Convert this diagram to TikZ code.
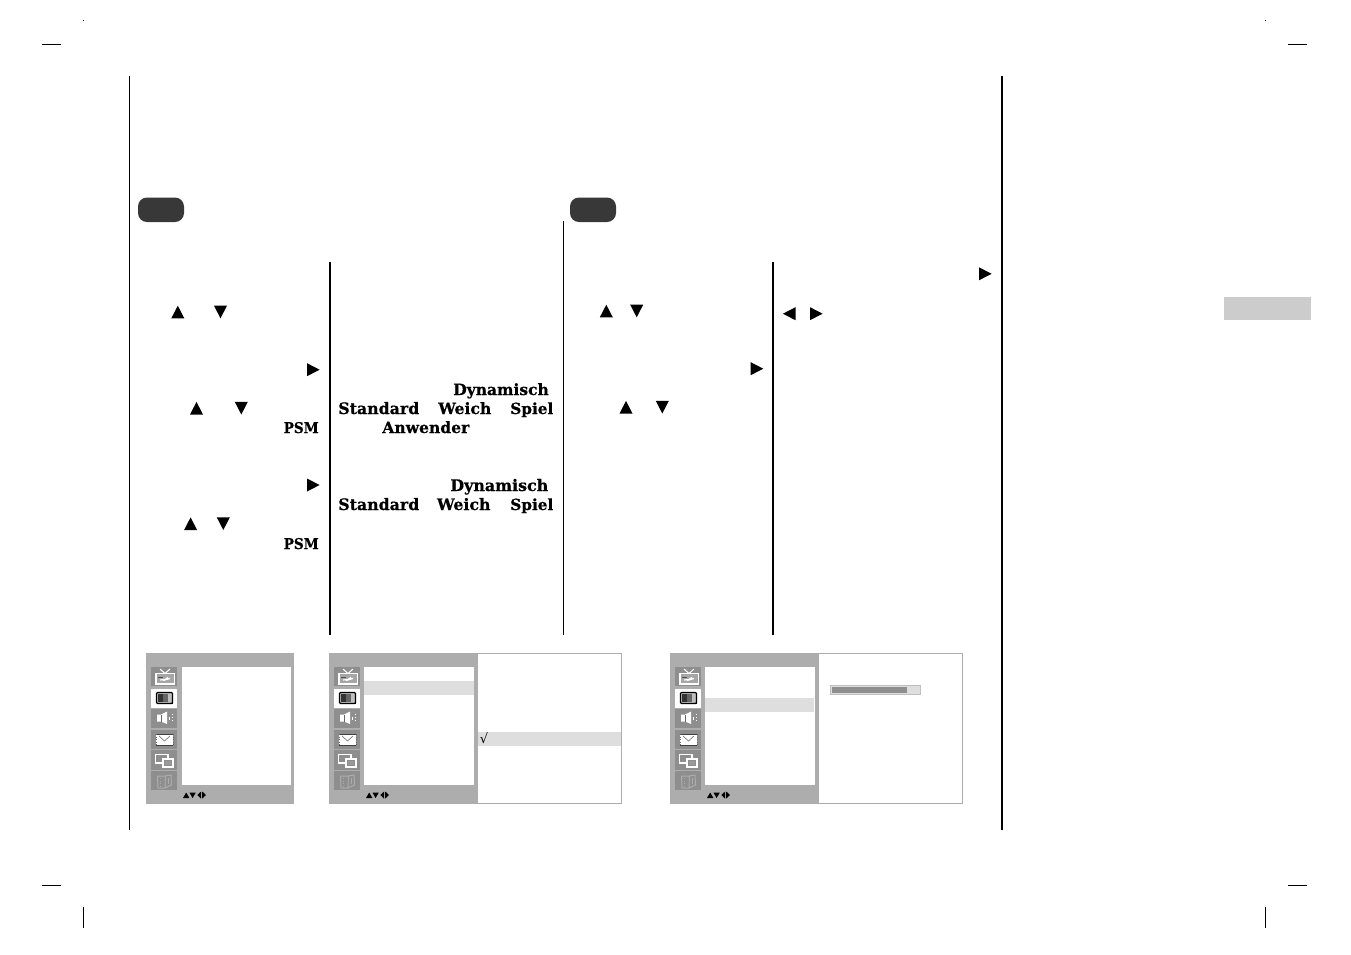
\documentclass[tikz,border=0pt]{standalone}
\usepackage{fontspec}
\usepackage{graphicx}
\setmainfont{DejaVu Serif}
\newfontfamily\symfont{DejaVu Sans}
\newfontfamily\heavyf{DejaVu Serif}[UprightFont={* Bold},FakeBold=0.6]
\definecolor{pgray}{HTML}{ADADAD}
\definecolor{tgray}{HTML}{8E8E8E}
\definecolor{hgray}{HTML}{DEDEDE}
\definecolor{pill}{HTML}{383838}
\definecolor{tabgray}{HTML}{CCCCCC}
\tikzset{
  crop/.style={black,line width=1pt},
  rulethin/.style={black,line width=1.1pt},
  rulethick/.style={black,line width=2pt},
  lab/.style={anchor=base west,inner sep=0pt,outer sep=0pt,font=\heavyf\fontsize{15}{15}\selectfont},
}
% triangles: centre x, centre y
\newcommand{\tup}[2]{\fill[black] (#1-6.5,#2+6.3) -- (#1+6.5,#2+6.3) -- (#1,#2-6.3) -- cycle;}
\newcommand{\tdn}[2]{\fill[black] (#1-6.5,#2-6.3) -- (#1+6.5,#2-6.3) -- (#1,#2+6.3) -- cycle;}
\newcommand{\trt}[2]{\fill[black] (#1-6.3,#2-6.5) -- (#1-6.3,#2+6.5) -- (#1+6.3,#2) -- cycle;}
\newcommand{\tlf}[2]{\fill[black] (#1+6.3,#2-6.5) -- (#1+6.3,#2+6.5) -- (#1-6.3,#2) -- cycle;}
\newcommand{\lbl}[5]{\node[lab] (#1) at (#2,#3) {\resizebox{#4pt}{!}{#5}};}
\newcommand{\lblh}[5]{\node[lab] (#1) at (#2,#3) {\resizebox{#4pt}{11pt}{#5}};}
% menu strip, drawn at the position of the first panel and shifted
\newcommand{\menustrip}[1]{%
\begin{scope}[shift={(#1,0)}]
  \fill[tgray] (151,667) rectangle (177,686);
  \fill[white] (151,689) rectangle (177,708);
  \fill[tgray] (151,709) rectangle (177,728);
  \fill[tgray] (151,730) rectangle (177,749);
  \fill[tgray] (151,750) rectangle (177,770);
  \fill[tgray] (151,771) rectangle (177,790);
  % TV
  \draw[white,line width=1pt] (160,669) -- (165,673.5) -- (170,669);
  \fill[black!35] (156,673.5) rectangle (174.5,684);
  \draw[white,line width=1.3pt] (156,673.5) rectangle (174.5,684);
  \draw[white,line width=1.2pt] (160,680) -- (165,679.5) -- (168,677.5) (163,680.5) -- (170,678.5);
  \draw[black!70,line width=0.5pt] (158,677.5) -- (163,677.5);
  % picture
  \fill[black!25] (157,693) rectangle (172,703);
  \fill[black!80] (158,694) rectangle (163,702);
  \fill[black!60] (163,694) rectangle (168,702);
  \draw[black,line width=1.3pt,rounded corners=1pt] (156.5,692.5) rectangle (172.5,703.5);
  \draw[black,line width=1.8pt] (168,703.5) -- (172.5,703.5);
  % speaker
  \fill[white] (157,714.5) -- (161,714.5) -- (167,711.5) -- (167,724) -- (161,721.5) -- (157,721.5) -- cycle;
  \draw[black!60,line width=0.6pt] (161,714.5) -- (161,721.5);
  \draw[white,line width=1pt,dash pattern=on 1.2pt off 2pt] (172,713.5) -- (172,723);
  \fill[white] (168.5,717) rectangle (169.5,719.5);
  % envelope
  \fill[white] (156,734) rectangle (173,745.5);
  \draw[black!75,line width=1pt] (156,734) -- (173,734);
  \draw[black!75,line width=1pt] (156,745.5) -- (173,745.5);
  \draw[black!60,line width=0.8pt,dash pattern=on 1pt off 1.5pt] (156,734) -- (156,745.5) (173,734) -- (173,745.5);
  \draw[black!50,line width=0.7pt] (159,736) -- (164.5,741) -- (170,736);
  % two screens
  \draw[white,line width=1.1pt] (155.5,754.5) rectangle (168,763);
  \fill[tgray] (163,758.5) rectangle (173.5,767.5);
  \draw[white,line width=1.1pt] (163,759) rectangle (173,767);
  \fill[black!40] (165,761) rectangle (171,765);
  % book
  \draw[pgray,line width=1pt] (157.5,776) -- (165,776) -- (171,775) -- (171.5,785) -- (165,788) -- (158,788) -- cycle;
  \draw[pgray,line width=0.9pt] (165.5,776) -- (165,788) (168.5,778) -- (168.5,784);
  \draw[pgray,line width=0.8pt,dash pattern=on 1pt off 1.5pt] (160,778) -- (160,786);
  % arrows
  \fill[black] (183,798) -- (189.4,798) -- (186.2,792.5) -- cycle;
  \fill[black] (189.4,792.5) -- (195.8,792.5) -- (192.6,798) -- cycle;
  \fill[black] (201,791.5) -- (201,798.5) -- (197.4,795) -- cycle;
  \fill[black] (202.2,791.5) -- (202.2,798.5) -- (206,795) -- cycle;
\end{scope}}
\begin{document}
\begin{tikzpicture}[x=1pt,y=-1pt]
\useasboundingbox (0,0) rectangle (1351,954);
\fill[white] (0,0) rectangle (1351,954);
% crop marks
\draw[crop] (42,44.5) -- (61,44.5);
\draw[crop] (1288,44.5) -- (1307,44.5);
\draw[crop] (42,885.5) -- (61,885.5);
\draw[crop] (1288,885.5) -- (1307,885.5);
\draw[crop] (83.5,907) -- (83.5,928);
\draw[crop] (1265.5,907) -- (1265.5,928);
\fill[black] (83,20) rectangle (84,21);
\fill[black] (1265,20) rectangle (1266,21);
% rules
\draw[rulethin] (129.5,76) -- (129.5,830);
\draw[rulethick] (1002,76) -- (1002,830);
\draw[rulethick] (330,262) -- (330,635);
\draw[rulethin] (563.5,221) -- (563.5,635);
\draw[rulethick] (773,262) -- (773,635);
% pills
\fill[pill,rounded corners=9pt] (138,197.5) rectangle (184,222);
\fill[pill,rounded corners=9pt] (570,197.5) rectangle (616,222);
% tab
\fill[tabgray] (1224,297) rectangle (1311,320);
% triangles, left
\tup{177.8}{312} \tdn{220.5}{312}
\trt{313.3}{369.7}
\tup{196.5}{408.2} \tdn{241.3}{408.2}
\trt{313.3}{485}
\tup{190.6}{523.7} \tdn{223.3}{523.7}
% triangles, right
\trt{985.3}{273.8}
\tup{606.3}{311} \tdn{636.7}{311}
\tlf{789.2}{313.7} \trt{816.3}{313.7}
\trt{757}{368.7}
\tup{626}{407.2} \tdn{662.3}{407.2}
% labels
\lbl{d1}{453.3}{395}{95.5}{Dynamisch}
\lbl{s1}{338.3}{414}{81}{Standard}
\lbl{w1}{438.3}{414}{53}{Weich}
\lbl{p1}{510.3}{414}{43}{Spiel}
\lblh{m1}{283.7}{433}{35}{PSM}
\lbl{a1}{382.3}{433}{87}{Anwender}
\lbl{d2}{450.3}{491}{98}{Dynamisch}
\lbl{s2}{338.3}{510}{81}{Standard}
\lbl{w2}{437}{510}{53.5}{Weich}
\lbl{p2}{510.3}{510}{43}{Spiel}
\lblh{m2}{283.7}{549}{35}{PSM}
% panel 1
\fill[pgray] (146,653) rectangle (294,804);
\fill[white] (182,667) rectangle (291,785);
\menustrip{0}
% panel 2
\fill[white] (477,653.5) rectangle (621.5,803.5);
\draw[pgray,line width=1pt] (477,653.5) rectangle (621.5,803.5);
\fill[pgray] (329,653) rectangle (477,804);
\fill[white] (364,667) rectangle (474,785);
\fill[hgray] (364,681) rectangle (474,695);
\fill[hgray] (478,732) rectangle (621,746);
\menustrip{183}
\node[inner sep=0pt,anchor=center,font=\symfont\fontsize{13}{13}\selectfont] (chk) at (484,738.5) {√};
% panel 3
\fill[white] (818,653.5) rectangle (962.5,803.5);
\draw[pgray,line width=1pt] (818,653.5) rectangle (962.5,803.5);
\fill[pgray] (670,653) rectangle (818,804);
\fill[white] (705,667) rectangle (815,785);
\fill[hgray] (705,698) rectangle (814,712);
\menustrip{524}
\fill[hgray] (830.5,685.5) rectangle (920.5,694.5);
\draw[black!25,line width=1pt] (830.5,685.5) rectangle (920.5,694.5);
\fill[tgray] (832,687) rectangle (907,693);
\end{tikzpicture}
\end{document}
